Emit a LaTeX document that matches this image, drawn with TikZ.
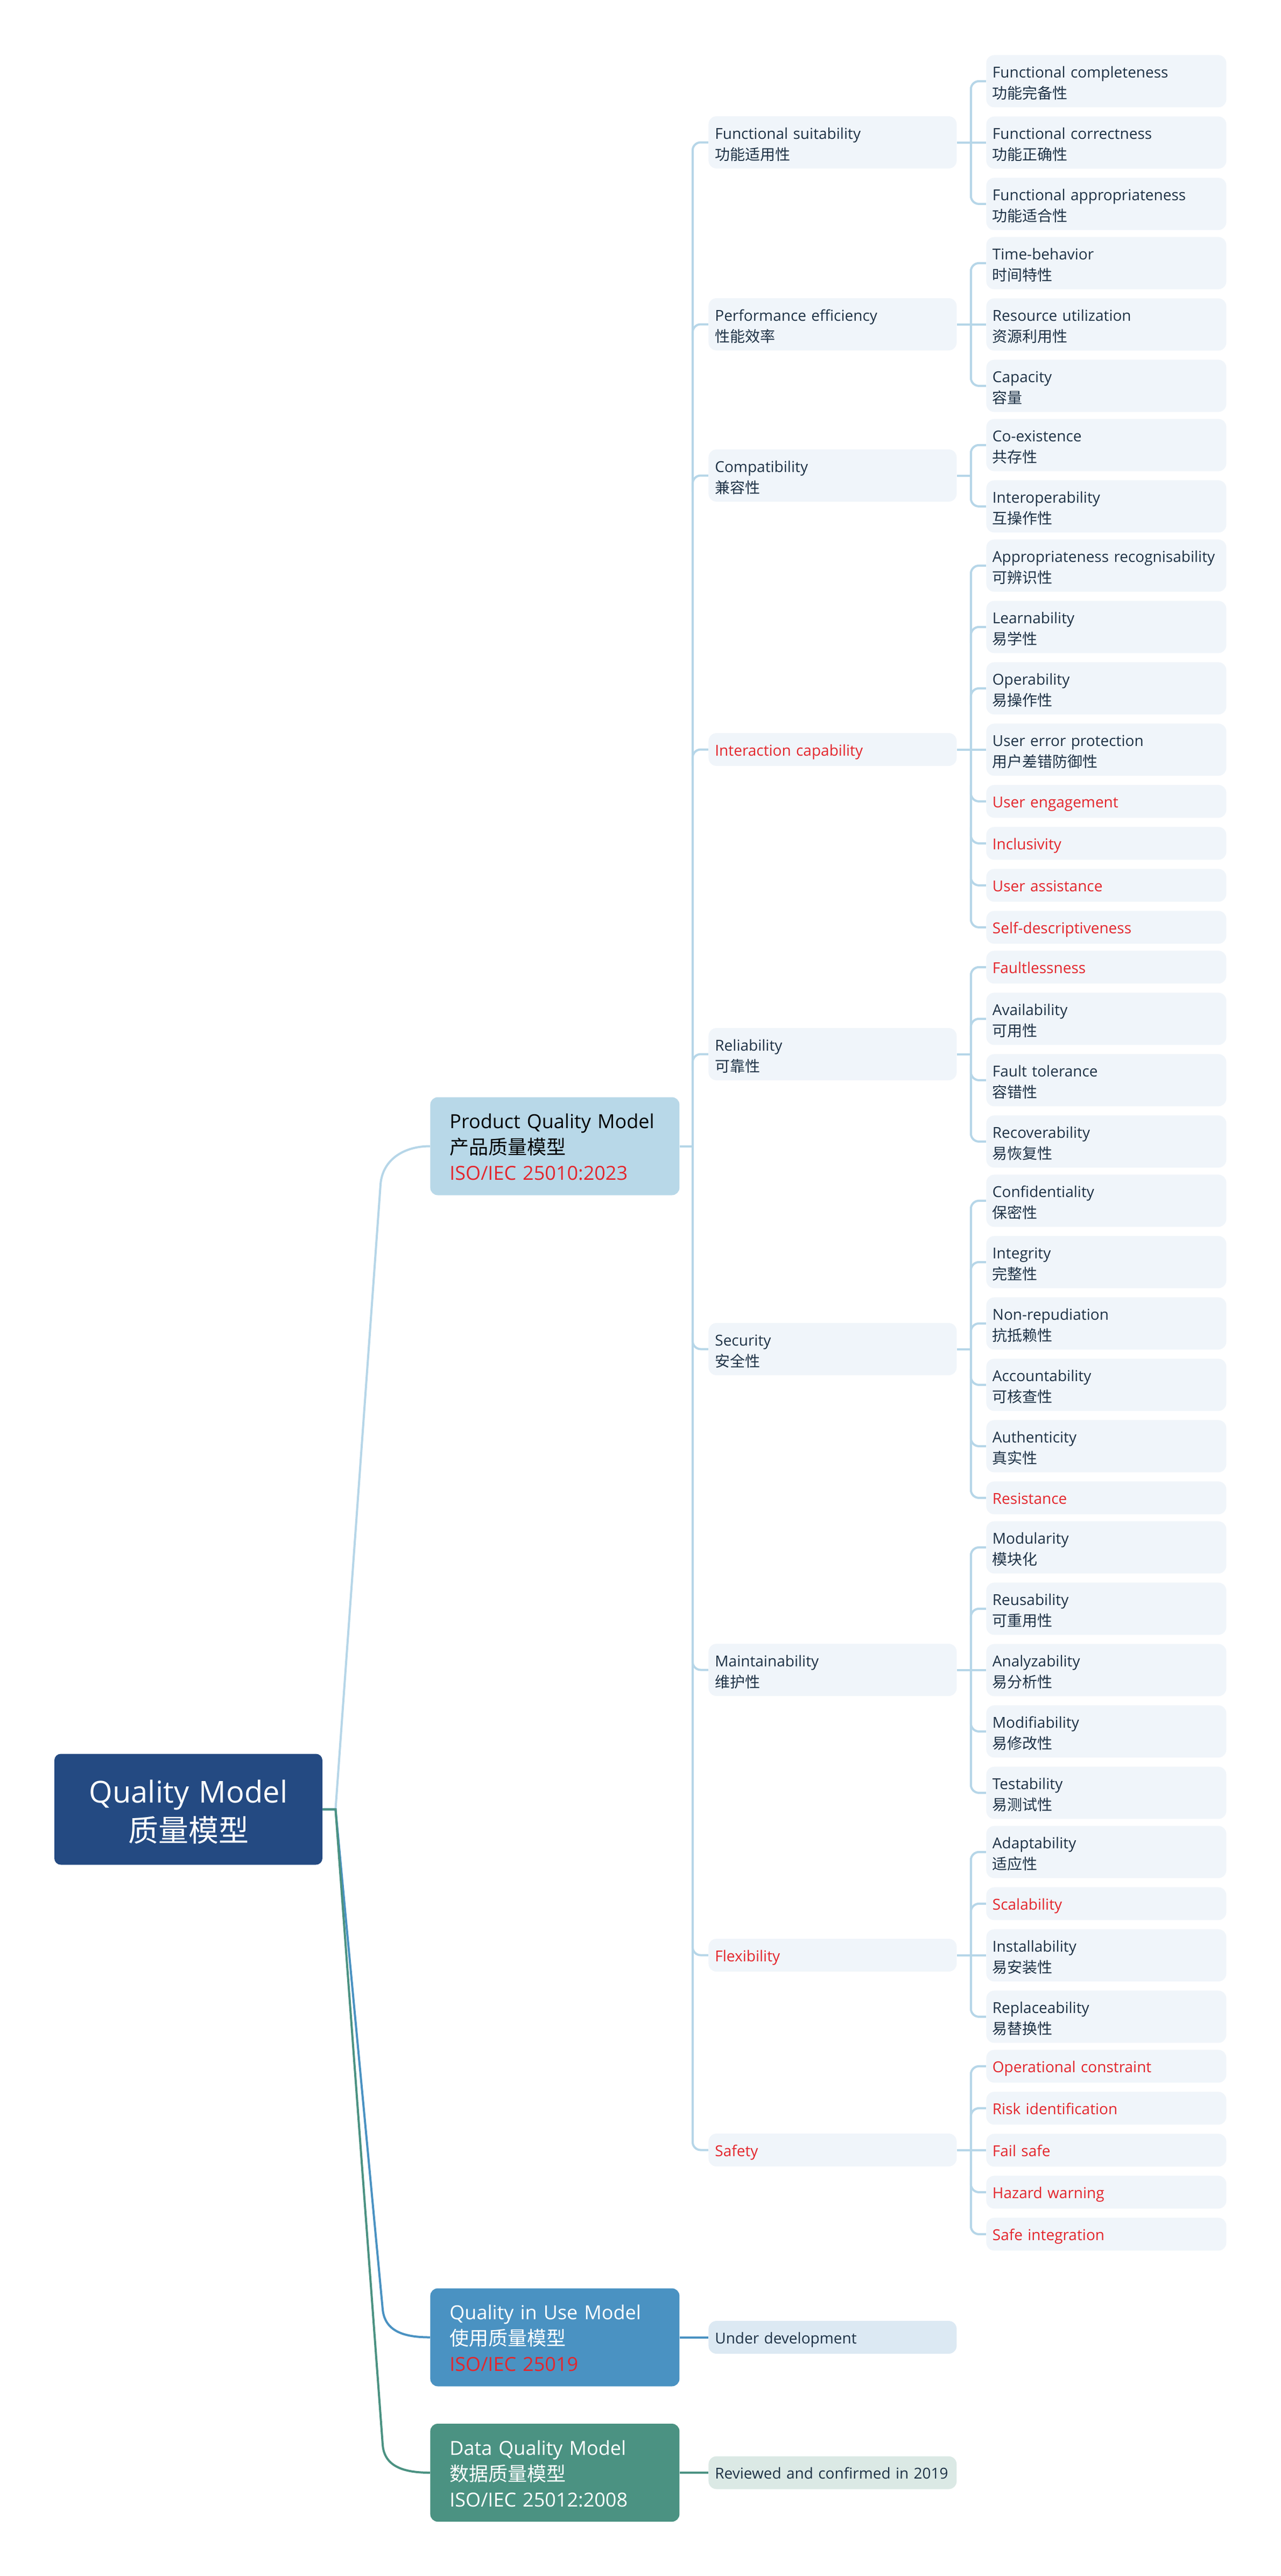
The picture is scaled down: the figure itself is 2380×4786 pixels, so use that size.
\documentclass[tikz,border=0pt]{standalone}
\usepackage{fontspec}
\setmainfont{Open Sans}
\newfontfamily\zh{Noto Sans CJK SC}
\usetikzlibrary{calc}
\pgfdeclarelayer{bg}
\pgfdeclarelayer{paper}
\pgfsetlayers{paper,bg,main}
\definecolor{rootfill}{HTML}{244A82}
\definecolor{pqfill}{HTML}{B8D8E8}
\definecolor{qufill}{HTML}{4A92C2}
\definecolor{dqfill}{HTML}{4B9282}
\definecolor{leaffill}{HTML}{F0F5FA}
\definecolor{udfill}{HTML}{DCE9F3}
\definecolor{rcfill}{HTML}{DBE9E5}
\definecolor{lnpq}{HTML}{B6D6E8}
\definecolor{txt}{HTML}{1E3246}
\definecolor{qred}{HTML}{E4262D}
\newcommand\fsleaf{\fontsize{14pt}{19.5pt}\selectfont}
\newcommand\fsmod{\fontsize{18pt}{24pt}\selectfont}
\newcommand\fsroot{\fontsize{28pt}{36pt}\selectfont}
\tikzset{
  box/.style={rectangle, align=left, inner ysep=0pt, text height=21pt, font=\fsleaf, text=txt},
  leaf/.style={box, fill=leaffill, rounded corners=7.5pt, anchor=north west, text width=211.5pt, inner xsep=5.75pt},
  midbox/.style={box, fill=leaffill, rounded corners=7.5pt, anchor=west, text width=218.5pt, inner xsep=6pt},
  two/.style={text depth=27.5pt},
  one/.style={text depth=9.5pt},
  hot/.style={text=qred},
  model/.style={rectangle, rounded corners=7pt, anchor=west, align=left, text width=195.5pt, inner xsep=18pt, inner ysep=0pt, text height=29pt, text depth=62pt, font=\fsmod},
  cl/.style={draw=lnpq, line width=2pt},
  rl/.style={line width=2pt},
}
\newcommand\leafT[4]{\node[leaf,two] (#1) at (1832,#2) {\mbox{#3}\\{\zh #4}};}
\newcommand\leafS[3]{\node[leaf,one,hot] (#1) at (1832,#2) {\mbox{#3}};}
\newcommand\midT[4]{\node[midbox,two] (#1) at (1316,#2) {\mbox{#3}\\{\zh #4}};}
\newcommand\midS[3]{\node[midbox,one,hot] (#1) at (1316,#2) {\mbox{#3}};}
\newcommand\brup[2]{\draw[cl,rounded corners=7.5pt] ($(#1 |- #2.west)+(0,30)$) -- (#1 |- #2.west) -- (#2.west);}
\newcommand\brdn[2]{\draw[cl,rounded corners=7.5pt] ($(#1 |- #2.west)+(0,-30)$) -- (#1 |- #2.west) -- (#2.west);}
\newcommand\brmid[2]{\draw[cl] (#1 |- #2.west) -- (#2.west);}
\begin{document}
\begin{tikzpicture}[x=0.5pt,y=-0.5pt]
\begin{pgfonlayer}{paper}
\path[use as bounding box, fill=white] (0,0) rectangle (2380,4786);
\end{pgfonlayer}

% root
\node[rectangle, rounded corners=6pt, fill=rootfill, text=white, align=center, text width=229pt, inner xsep=10pt, inner ysep=0pt, text height=45.5pt, text depth=57.5pt, font=\fsroot] (root) at (350,3361.5) {Quality Model\\{\zh 质量模型}};

% level 1
\node[model, fill=pqfill, text=black] (pqm) at (799,2129.5) {Product Quality Model\\{\zh 产品质量模型}\\\textcolor{qred}{ISO/IEC 25010:2023}};
\node[model, fill=qufill, text=white] (qiu) at (799,4342.5) {Quality in Use Model\\{\zh 使用质量模型}\\\textcolor{qred}{ISO/IEC 25019}};
\node[model, fill=dqfill, text=white] (dqm) at (799,4594) {Data Quality Model\\{\zh 数据质量模型}\\ISO/IEC 25012:2008};

\node[midbox,one,fill=udfill] (ud) at (1316,4342.5) {Under development};
\node[midbox,one,fill=rcfill] (rc) at (1316,4594) {\mbox{Reviewed and confirmed in 2019}};

% level 2
\midT{fs}{264.5}{Functional suitability}{功能适用性}
\midT{pe}{602.5}{Performance efficiency}{性能效率}
\midT{co}{883.5}{Compatibility}{兼容性}
\midS{ic}{1392.5}{Interaction capability}
\midT{re}{1958.5}{Reliability}{可靠性}
\midT{se}{2506.5}{Security}{安全性}
\midT{ma}{3102.5}{Maintainability}{维护性}
\midS{fl}{3632.5}{Flexibility}
\midS{sa}{3994.5}{Safety}

% leaves
\leafT{fs1}{102}{Functional completeness}{功能完备性}
\leafT{fs2}{216}{Functional correctness}{功能正确性}
\leafT{fs3}{330}{Functional appropriateness}{功能适合性}
\leafT{pe1}{440}{Time-behavior}{时间特性}
\leafT{pe2}{554}{Resource utilization}{资源利用性}
\leafT{pe3}{668}{Capacity}{容量}
\leafT{co1}{778}{Co-existence}{共存性}
\leafT{co2}{892}{Interoperability}{互操作性}
\leafT{ic1}{1002}{Appropriateness recognisability}{可辨识性}
\leafT{ic2}{1116}{Learnability}{易学性}
\leafT{ic3}{1230}{Operability}{易操作性}
\leafT{ic4}{1344}{User error protection}{用户差错防御性}
\leafS{ic5}{1458}{User engagement}
\leafS{ic6}{1536}{Inclusivity}
\leafS{ic7}{1614}{User assistance}
\leafS{ic8}{1692}{Self-descriptiveness}
\leafS{re1}{1766}{Faultlessness}
\leafT{re2}{1844}{Availability}{可用性}
\leafT{re3}{1958}{Fault tolerance}{容错性}
\leafT{re4}{2072}{Recoverability}{易恢复性}
\leafT{se1}{2182}{Confidentiality}{保密性}
\leafT{se2}{2296}{Integrity}{完整性}
\leafT{se3}{2410}{Non-repudiation}{抗抵赖性}
\leafT{se4}{2524}{Accountability}{可核查性}
\leafT{se5}{2638}{Authenticity}{真实性}
\leafS{se6}{2752}{Resistance}
\leafT{ma1}{2826}{Modularity}{模块化}
\leafT{ma2}{2940}{Reusability}{可重用性}
\leafT{ma3}{3054}{Analyzability}{易分析性}
\leafT{ma4}{3168}{Modifiability}{易修改性}
\leafT{ma5}{3282}{Testability}{易测试性}
\leafT{fl1}{3392}{Adaptability}{适应性}
\leafS{fl2}{3506}{Scalability}
\leafT{fl3}{3584}{Installability}{易安装性}
\leafT{fl4}{3698}{Replaceability}{易替换性}
\leafS{sa1}{3808}{Operational constraint}
\leafS{sa2}{3886}{Risk identification}
\leafS{sa3}{3964}{Fail safe}
\leafS{sa4}{4042}{Hazard warning}
\leafS{sa5}{4120}{Safe integration}

\begin{pgfonlayer}{bg}
% root branches
\path (root.east) ++(24,0) coordinate (rj);
\draw[rl, draw=lnpq] (root.east) -- (rj) -- ($(pqm.west)+(-92,71)$) .. controls +(3.5,-45) and +(-50,0) .. (pqm.west);
\draw[rl, draw=qufill] (root.east) -- (rj) -- ($(qiu.west)+(-88,-52)$) .. controls +(4,40) and +(-50,0) .. (qiu.west);
\draw[rl, draw=dqfill] (root.east) -- (rj) -- ($(dqm.west)+(-88,-52)$) .. controls +(3,40) and +(-50,0) .. (dqm.west);
\draw[line width=2pt, draw=qufill] (qiu.east) -- (ud.west);
\draw[line width=2pt, draw=dqfill] (dqm.east) -- (rc.west);
% level 1 to level 2
\path (pqm.east) ++(24,0) coordinate (pqJ);
\draw[cl] (pqm.east) -- (pqJ);
\draw[cl, rounded corners=7.5pt] (fs.west) -| (pqJ) |- (sa.west);
\brup{pqJ}{pe}\brup{pqJ}{co}\brup{pqJ}{ic}\brup{pqJ}{re}
\brdn{pqJ}{se}\brdn{pqJ}{ma}\brdn{pqJ}{fl}
% level 2 to leaves
\foreach \p/\n in {fs/3,pe/3,co/2,ic/8,re/4,se/6,ma/5,fl/4,sa/5}{
  \path (\p.east) ++(26,0) coordinate (\p J);
  \draw[cl] (\p.east) -- (\p J);
  \draw[cl, rounded corners=7.5pt] (\p1.west) -| (\p J) |- (\p\n.west);
}
\brmid{fsJ}{fs2}
\brmid{peJ}{pe2}
\brup{icJ}{ic2}\brup{icJ}{ic3}\brmid{icJ}{ic4}\brdn{icJ}{ic5}\brdn{icJ}{ic6}\brdn{icJ}{ic7}
\brup{reJ}{re2}\brdn{reJ}{re3}
\brup{seJ}{se2}\brup{seJ}{se3}\brdn{seJ}{se4}\brdn{seJ}{se5}
\brup{maJ}{ma2}\brmid{maJ}{ma3}\brdn{maJ}{ma4}
\brup{flJ}{fl2}\brmid{flJ}{fl3}
\brup{saJ}{sa2}\brmid{saJ}{sa3}\brdn{saJ}{sa4}
\end{pgfonlayer}
\end{tikzpicture}
\end{document}
